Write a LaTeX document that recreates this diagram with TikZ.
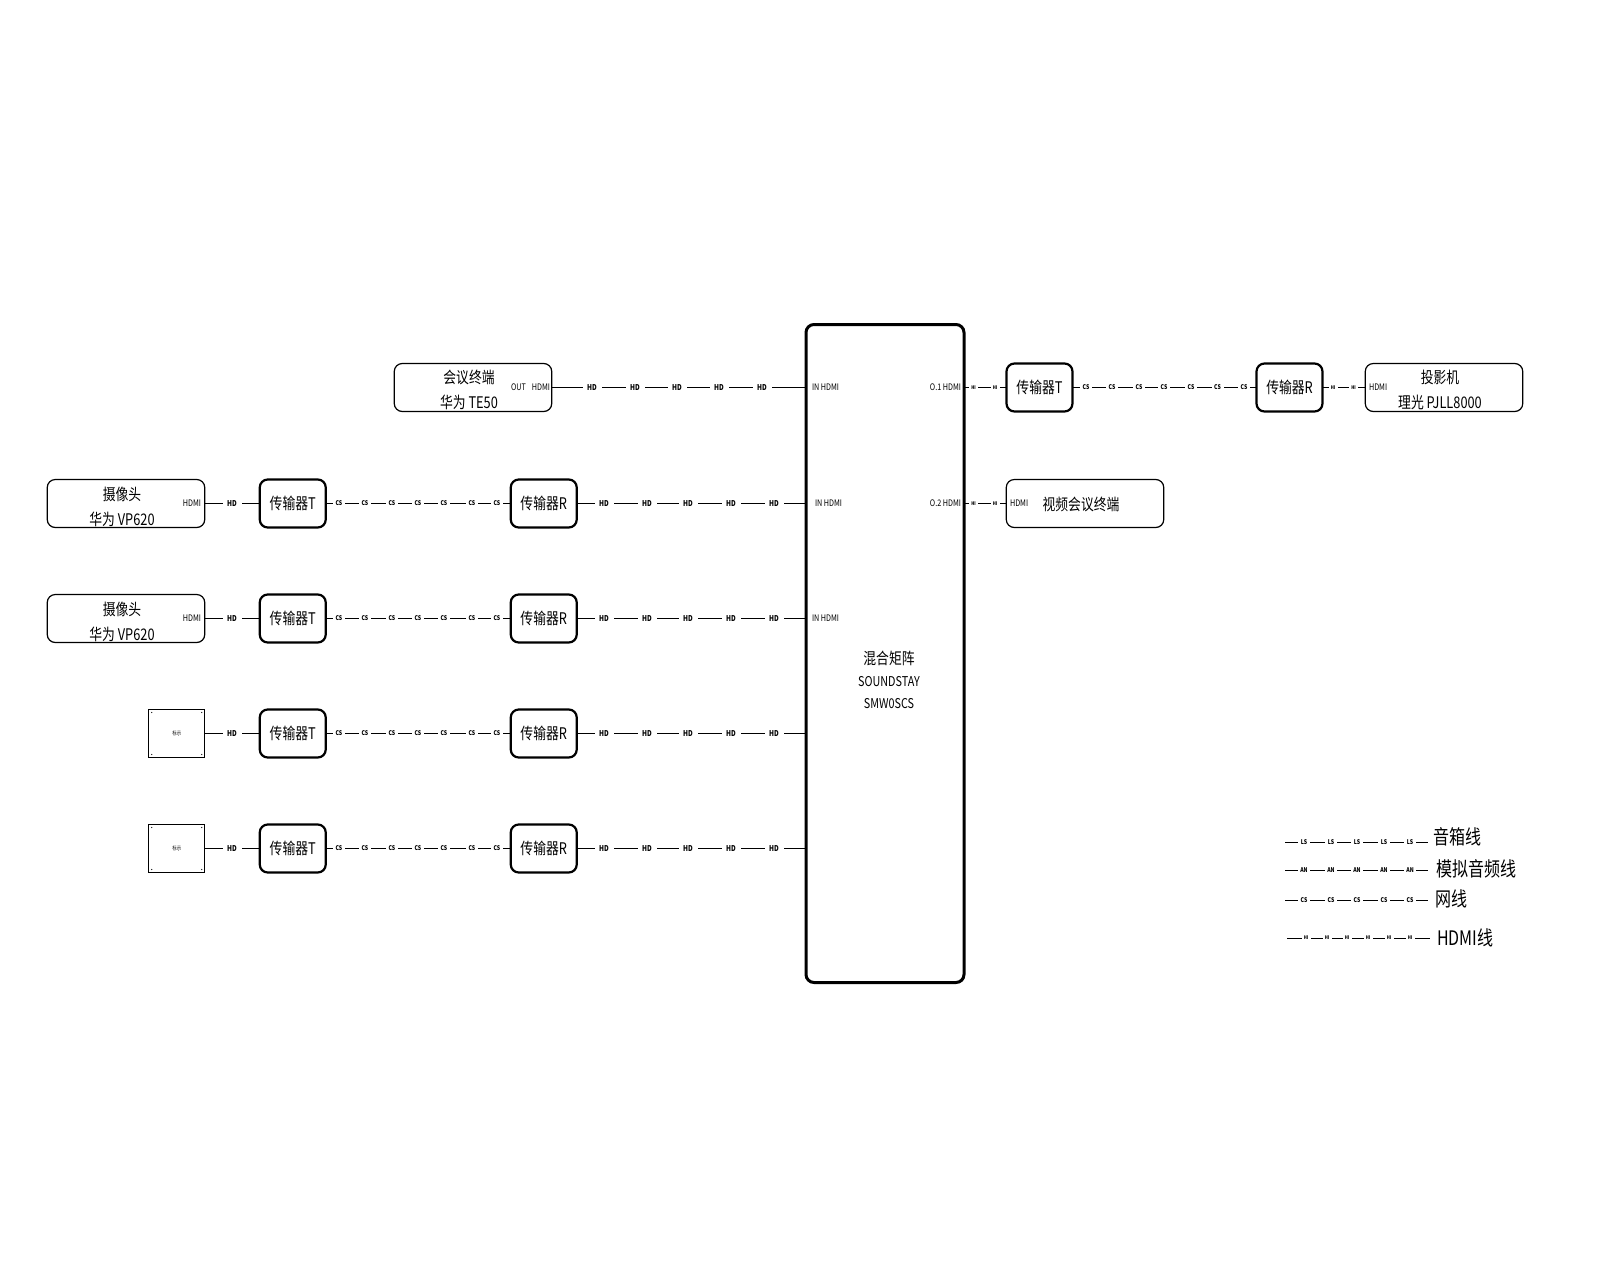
\documentclass[tikz,border=0pt]{standalone}
\usepackage{fontspec}
\setmainfont[FakeStretch=0.8]{Noto Sans CJK SC}
\usetikzlibrary{positioning}
\newcount\tagno
\newcommand{\tagrun}[4]{%
  \foreach \tagx in {#4}{
    \global\advance\tagno by 1
    \node[#2] (tag\the\tagno) at (\tagx,0 |- #1) {#3};
  }
}
\begin{document}
\begin{tikzpicture}[
  x=1pt,y=-1pt,
  node distance=67pt and 55pt,
  every node/.style={outer sep=0pt},
  device/.style={rectangle,draw=black,line width=1.2pt,rounded corners=8pt,
                 minimum width=157.5pt,minimum height=48pt},
  devtext/.style={align=center,inner sep=0pt,font=\fontsize{16}{25}\selectfont},
  relay/.style={rectangle,draw=black,line width=2.2pt,rounded corners=8pt,
                minimum width=66pt,minimum height=48pt,align=center,inner sep=0pt,
                font=\fontsize{16}{22}\selectfont},
  source/.style={rectangle,draw=black,line width=0.9pt,
                 minimum width=56pt,minimum height=48pt,inner sep=0pt,
                 font=\fontsize{5.5}{6}\selectfont},
  mixer/.style={rectangle,draw=black,line width=3pt,rounded corners=8pt,
                minimum width=158pt,minimum height=658pt},
  mixertext/.style={align=center,inner sep=0pt,font=\fontsize{16}{22}\selectfont},
  port/.style={inner sep=0pt,font=\fontsize{9}{10}\selectfont},
  wire/.style={draw=black,line width=1pt},
  hdtag/.style={fill=white,inner sep=0pt,minimum width=19pt,minimum height=7pt,font=\fontsize{8}{8}\selectfont\bfseries},
  cstag/.style={fill=white,inner sep=0pt,minimum width=12pt,minimum height=7pt,font=\fontsize{6.5}{7}\selectfont\bfseries},
  hitag/.style={fill=white,inner sep=0pt,minimum width=9pt,minimum height=6pt,font=\fontsize{5}{5}\selectfont\bfseries},
  keytext/.style={anchor=west,inner sep=0pt,font=\fontsize{20}{22}\selectfont}
]
\useasboundingbox (0,0) rectangle (1600,1280);

%% ---- matrix ----
\node[mixer] (matrix) at (885,653.5) {};
\node[mixertext] (matrixtext) at (889,680)
    {混合矩阵\\{\fontsize{13.5}{22}\selectfont SOUNDSTAY}\\{\fontsize{13.5}{22}\selectfont SMW0SCS}};

%% ---- top row ----
\node[device] (term) at (473,387.5) {};
\node[relay] (txout) at (1039.5,387.5) {传输器T};
\node[relay] (rxout) at (1289.5,387.5) {传输器R};
\node[device] (proj) at (1444,387.5) {};
\node[device] (video) at (1085,503.5) {};

%% ---- input column ----
\node[device] (cam1) at (126,503.5) {};
\node[device,below=of cam1] (cam2) {};
\node[source,below=67pt of cam2.south east,anchor=north east] (pc1) {标示};
\node[source,below=67pt of pc1.south east,anchor=north east] (pc2) {标示};

\foreach \src/\tx/\rx in {cam1/tx1/rx1,cam2/tx2/rx2,pc1/tx3/rx3,pc2/tx4/rx4}{
  \node[relay,right=55pt of \src] (\tx) {传输器T};
  \node[relay,right=185pt of \tx] (\rx) {传输器R};
}

%% ---- device texts ----
\node[devtext] (termtext) at ([shift={(-4,2)}]term.center) {会议终端\\华为 TE50};
\node[devtext] (projtext) at ([shift={(-4,2)}]proj.center) {投影机\\理光 PJLL8000};
\node[devtext] (videotext) at ([shift={(-4,1)}]video.center) {视频会议终端};
\node[devtext] (camtext1) at ([shift={(-4,3)}]cam1.center) {摄像头\\华为 VP620};
\node[devtext] (camtext2) at ([shift={(-4,3)}]cam2.center) {摄像头\\华为 VP620};

%% ---- ports ----
\node[port,anchor=east] (termport) at (550,387.5) {OUT\hspace{6pt}HDMI};
\node[port,anchor=west] (inport1) at (812,387.5) {IN HDMI};
\node[port,anchor=west] (inport2) at (815,503.5) {IN HDMI};
\node[port,anchor=west] (inport3) at (812,618.5) {IN HDMI};
\node[port,anchor=east] (outport1) at (961,387.5) {O.1 HDMI};
\node[port,anchor=east] (outport2) at (961,503.5) {O.2 HDMI};
\node[port,anchor=east] (camport1) at (201,503.5) {HDMI};
\node[port,anchor=east] (camport2) at (201,618.5) {HDMI};
\node[port,anchor=west] (projport) at (1369,387.5) {HDMI};
\node[port,anchor=west] (videoport) at (1010,503.5) {HDMI};

%% ---- source corner dots ----
\foreach \src in {pc1,pc2}{
  \foreach \corner/\dx/\dy in {north west/3/3,north east/-3/3,south west/3/-3,south east/-3/-3}{
    \fill ([shift={(\dx,\dy)}]\src.\corner) circle (0.6pt);
  }
}

%% ---- wires ----
\draw[wire] (term.east) -- (matrix.west |- term.east);
\draw[wire] (matrix.east |- txout.west) -- (txout.west);
\draw[wire] (txout.east) -- (rxout.west);
\draw[wire] (rxout.east) -- (proj.west);
\draw[wire] (matrix.east |- video.west) -- (video.west);
\foreach \src/\tx/\rx in {cam1/tx1/rx1,cam2/tx2/rx2,pc1/tx3/rx3,pc2/tx4/rx4}{
  \draw[wire] (\src.east) -- (\tx.west);
  \draw[wire] (\tx.east) -- (\rx.west);
  \draw[wire] (\rx.east) -- (matrix.west |- \rx.east);
  \tagrun{\src.east}{hdtag}{HD}{232}
  \tagrun{\tx.east}{cstag}{CS}{339,365,392,418,444,472,497}
  \tagrun{\rx.east}{hdtag}{HD}{604,647,688,731,774}
}
\tagrun{term.east}{hdtag}{HD}{592,635,677,719,762}
\tagrun{txout.west}{hitag}{HI}{973.5,995}
\tagrun{video.west}{hitag}{HI}{973.5,995}
\tagrun{txout.east}{cstag}{CS}{1086,1112,1139,1164,1191,1217.5,1244}
\tagrun{rxout.east}{hitag}{HI}{1333,1353.5}

%% ---- legend ----
\coordinate (key1) at (1285,842);
\coordinate (key2) at (1285,870);
\coordinate (key3) at (1285,900);
\coordinate (key4) at (1287,938);
\coordinate (keyend1) at (1428,842);
\coordinate (keyend2) at (1428,870);
\coordinate (keyend3) at (1428,900);
\coordinate (keyend4) at (1430,938);
\node[keytext] (keytext1) at (1433,837) {音箱线};
\node[keytext] (keytext2) at (1436,869) {模拟音频线};
\node[keytext] (keytext3) at (1435,899) {网线};
\node[keytext] (keytext4) at (1437,938) {HDMI线};
\foreach \i in {1,2,3,4}{
  \draw[wire] (key\i) -- (keyend\i);
}
\tagrun{key1}{cstag}{LS}{1304,1331,1357,1384,1410}
\tagrun{key2}{cstag}{AN}{1304,1331,1357,1384,1410}
\tagrun{key3}{cstag}{CS}{1304,1331,1357,1384,1410}
\tagrun{key4}{hitag}{HI}{1306,1327,1347,1368,1389,1410}

\end{tikzpicture}
\end{document}
